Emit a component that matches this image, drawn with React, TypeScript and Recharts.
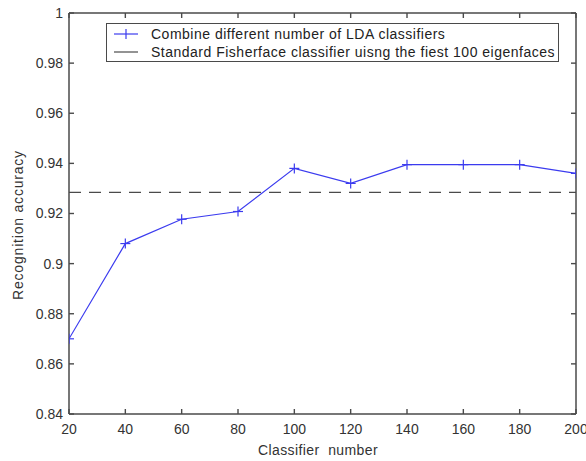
import React from 'react';
import { LineChart, Line, XAxis, YAxis, ReferenceLine } from 'recharts';

const classifierCounts = [20, 40, 60, 80, 100, 120, 140, 160, 180, 200];
const combinedAccuracy = [0.870, 0.908, 0.9177, 0.9208, 0.938, 0.932, 0.9395, 0.9395, 0.9395, 0.936];
const fisherfaceBaseline = 0.9284;
const xTicks = [20, 40, 60, 80, 100, 120, 140, 160, 180, 200];
const yTicks = [0.84, 0.86, 0.88, 0.9, 0.92, 0.94, 0.96, 0.98, 1];
const seriesNames = [
  'Combine different number of LDA classifiers',
  'Standard Fisherface classifier uisng the fiest 100 eigenfaces',
];

const data = classifierCounts.map((c, i) => ({ n: c, acc: combinedAccuracy[i] }));

const BLUE = '#3b3bef';
const AXIS = '#4a4a4a';
const TEXT = '#333';
const FONT = '"Liberation Sans", Arial, sans-serif';
const TICK_LEN = 5;
const X_MARGIN = 15;
const Y_MARGIN = 6;
const W = 586;
const H = 461;
const MARGIN = { top: 13, right: 10, bottom: 17, left: 9 };
const PLOT_TOP = MARGIN.top;
const PLOT_RIGHT = W - MARGIN.right;

const PlusDot = (props: any) => {
  const { cx, cy } = props;
  if (cx == null || cy == null) return null;
  return (
    <g>
      <line x1={cx - 5} y1={cy} x2={cx + 5} y2={cy} stroke={BLUE} strokeWidth={1.2} />
      <line x1={cx} y1={cy - 5} x2={cx} y2={cy + 5} stroke={BLUE} strokeWidth={1.2} />
    </g>
  );
};

const yFmt = (v: number) => (v === 1 ? '1' : String(Number(v.toFixed(2))));

const BottomTick = (props: any) => {
  const { x, y, payload } = props;
  const axisY = y - X_MARGIN;
  return (
    <g>
      <line x1={x} y1={axisY} x2={x} y2={axisY - TICK_LEN} stroke={AXIS} strokeWidth={1.4} />
      <line x1={x} y1={PLOT_TOP} x2={x} y2={PLOT_TOP + TICK_LEN} stroke={AXIS} strokeWidth={1.4} />
      <text x={x} y={y} dy="0.35em" textAnchor="middle" fill={TEXT} fontSize={14} fontFamily={FONT}>
        {payload.value}
      </text>
    </g>
  );
};

const LeftTick = (props: any) => {
  const { x, y, payload } = props;
  const axisX = x + Y_MARGIN;
  return (
    <g>
      <line x1={axisX} y1={y} x2={axisX + TICK_LEN} y2={y} stroke={AXIS} strokeWidth={1.4} />
      <line x1={PLOT_RIGHT} y1={y} x2={PLOT_RIGHT - TICK_LEN} y2={y} stroke={AXIS} strokeWidth={1.4} />
      <text x={x} y={y} dy="0.35em" textAnchor="end" fill={TEXT} fontSize={14} fontFamily={FONT}>
        {yFmt(payload.value)}
      </text>
    </g>
  );
};

export default function App() {
  return (
    <div style={{ position: 'absolute', left: 0, top: 0, width: W, height: H, background: '#fff', fontFamily: FONT }}>
      <LineChart width={W} height={H} data={data} margin={MARGIN}>
        <XAxis
          dataKey="n"
          type="number"
          domain={[20, 200]}
          ticks={xTicks}
          allowDataOverflow
          stroke={AXIS}
          strokeWidth={1.5}
          tickLine={false}
          tickSize={0}
          tickMargin={X_MARGIN}
          height={30}
          tick={<BottomTick />}
          interval={0}
        />
        <YAxis
          type="number"
          domain={[0.84, 1]}
          ticks={yTicks}
          allowDataOverflow
          stroke={AXIS}
          strokeWidth={1.5}
          tickLine={false}
          tickSize={0}
          tickMargin={Y_MARGIN}
          width={60}
          tick={<LeftTick />}
          interval={0}
        />
        <ReferenceLine y={1} stroke={AXIS} strokeWidth={1.5} />
        <ReferenceLine x={200} stroke={AXIS} strokeWidth={1.5} />
        <ReferenceLine
          y={fisherfaceBaseline}
          stroke={AXIS}
          strokeWidth={1.3}
          strokeDasharray="12 8"
        />
        <Line
          dataKey="acc"
          stroke={BLUE}
          strokeWidth={1.2}
          dot={<PlusDot />}
          activeDot={false}
          isAnimationActive={false}
        />
      </LineChart>
      <div
        style={{
          position: 'absolute', left: 18, top: 225, transform: 'translate(-50%,-50%) rotate(-90deg)',
          whiteSpace: 'nowrap', fontSize: 14, letterSpacing: 0.8, color: TEXT,
        }}
      >
        Recognition accuracy
      </div>
      <div
        style={{
          position: 'absolute', left: 318, top: 450, transform: 'translate(-50%,-50%)',
          whiteSpace: 'nowrap', fontSize: 14, color: TEXT, letterSpacing: 0.4,
        }}
      >
        Classifier&nbsp;&nbsp;number
      </div>
      <div
        style={{
          position: 'absolute', left: 106, top: 23, width: 451, height: 37,
          border: `1px solid ${AXIS}`, background: '#fff', fontSize: 14, letterSpacing: 0.5, color: '#222',
        }}
      >
        {seriesNames.map((name, i) => (
          <div key={name} style={{ position: 'absolute', left: 0, top: i === 0 ? 2 : 20, height: 16, display: 'flex', alignItems: 'center', whiteSpace: 'nowrap' }}>
            <svg width={44} height={16} style={{ display: 'block' }}>
              <line x1={7} y1={8} x2={31} y2={8} stroke={i === 0 ? BLUE : AXIS} strokeWidth={1.2} />
              {i === 0 && <line x1={19} y1={3} x2={19} y2={13} stroke={BLUE} strokeWidth={1.2} />}
            </svg>
            <span>{name}</span>
          </div>
        ))}
      </div>
    </div>
  );
}
